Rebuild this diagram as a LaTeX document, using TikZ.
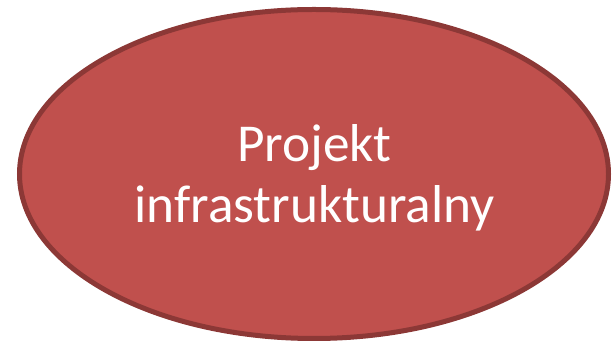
\documentclass[tikz,border=0pt]{standalone}
\usepackage{fontspec}
\setmainfont{Carlito}
\usetikzlibrary{shapes.geometric}
\definecolor{fillred}{HTML}{C0504D}
\definecolor{edgered}{HTML}{8C3836}
\tikzset{
  oval/.style={ellipse, draw=edgered, fill=fillred, line width=5pt, minimum width=589pt, minimum height=329pt, inner sep=0pt, outer sep=0pt},
  txt/.style={text=white, font=\fontsize{53.3}{61}\selectfont, anchor=base, inner sep=0pt}
}
\begin{document}
\begin{tikzpicture}[x=1pt,y=1pt]
\useasboundingbox (0,0) rectangle (615,342);
\node[oval] (e) at (314,168) {};
\node[txt] (t1) at (314.5,180) {Projekt};
\node[txt] (t2) at (314.5,119) {infrastrukturalny};
\end{tikzpicture}
\end{document}
